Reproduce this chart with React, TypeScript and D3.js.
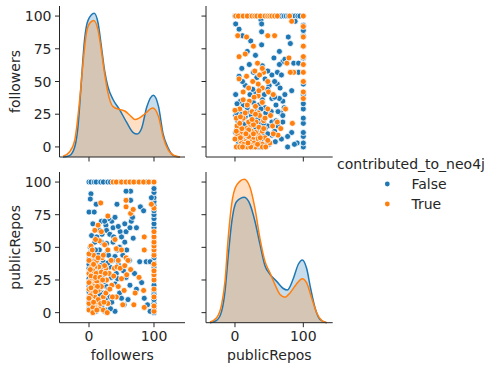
import * as d3 from 'd3';

const blue = '#1f77b4';
const orange = '#ff7f0e';
const ink = '#262626';
const font = 'DejaVu Sans, sans-serif';

const hueTitle = 'contributed_to_neo4j';
const hueLevels = ['False', 'True'];
const variables = ['followers', 'publicRepos'];
const yTicks = [0, 25, 50, 75, 100];
const xTicks = [0, 100];

// [followers, publicRepos]
const falsePoints: [number, number][] = [
  [0, 100], [3, 100], [8, 100], [11, 100], [18, 100], [22, 100], [29, 100], [33, 100], [40, 100], [48, 100],
  [68, 100], [77, 100], [85, 100], [89, 100], [93, 100],
  [100, 0], [100, 3], [100, 7], [100, 10], [100, 14], [100, 17], [100, 21], [100, 25], [100, 28], [100, 32],
  [100, 35], [100, 38], [100, 42], [100, 45], [100, 50], [100, 54], [100, 58], [100, 62], [100, 65], [100, 68],
  [100, 72], [100, 75], [100, 78], [100, 82], [100, 85], [100, 88], [100, 92], [100, 95], [97, 38], [96, 88],
  [3, 91], [2, 87], [11, 83], [0, 77], [43, 83], [64, 86], [64, 93], [57, 93], [79, 81], [84, 78],
  [19, 70], [26, 67], [35, 70], [37, 65], [40, 73], [27, 63], [16, 63], [32, 60], [48, 62], [57, 62],
  [55, 68], [65, 70], [73, 65], [63, 65], [50, 58], [4, 59], [9, 54], [19, 54], [27, 53], [37, 54],
  [47, 50], [55, 54], [58, 48], [16, 48], [26, 45], [40, 43], [0, 41], [6, 42], [11, 37], [22, 39],
  [32, 35], [45, 37], [53, 32], [57, 27], [42, 30], [27, 31], [16, 27], [4, 32], [78, 39], [88, 39],
  [94, 39], [81, 23], [63, 21], [40, 22], [27, 20], [9, 25], [16, 17], [32, 12], [35, 8], [40, 1],
  [54, 6], [16, 6], [6, 2], [11, 1], [24, 1], [94, 1], [0, 12], [73, 18], [62, 40],
  [2, 44], [5, 38], [8, 30], [13, 33], [18, 36], [21, 28], [24, 24], [2, 22], [7, 18], [12, 14],
  [19, 10], [23, 15], [28, 8], [3, 5], [8, 8], [14, 3], [20, 4], [26, 2], [30, 18], [34, 27],
  [36, 40], [30, 44], [14, 44], [10, 48], [2, 50], [20, 60], [12, 58], [44, 26], [47, 15], [50, 11],
  [44, 48], [38, 58], [30, 72], [24, 70], [45, 66], [68, 57], [70, 30], [60, 10], [85, 11], [90, 6],
  [67, 73], [52, 44], [6, 68], [8, 77],
  [0, 3], [0, 8], [0, 16], [0, 20], [0, 26], [0, 34], [0, 37], [5, 12], [10, 20], [15, 30],
  [18, 42], [21, 33], [9, 40], [3, 47], [25, 10], [29, 38], [33, 3], [17, 14],
];

const truePoints: [number, number][] = [
  [37, 100], [42, 100], [50, 100], [57, 100], [63, 100], [69, 100], [77, 100], [84, 100], [92, 100], [100, 100],
  [100, 1], [100, 5], [100, 12], [100, 18], [100, 25], [100, 29], [100, 32], [100, 37], [100, 44], [100, 48],
  [100, 51], [100, 54], [100, 58], [100, 62], [100, 80],
  [18, 84], [57, 86], [57, 81], [64, 76], [68, 79], [96, 83], [29, 74], [14, 67], [9, 63], [3, 51],
  [29, 48], [42, 49], [16, 55], [50, 48], [57, 42], [60, 40], [64, 33], [85, 58], [85, 48], [77, 27],
  [45, 40], [39, 34], [26, 34], [15, 35], [9, 35], [4, 35], [6, 32], [11, 30], [19, 31], [6, 26],
  [16, 22], [27, 25], [35, 21], [45, 20], [50, 26], [71, 15], [84, 17], [85, 4], [69, 6], [54, 17],
  [42, 12], [4, 22], [4, 16], [9, 12], [14, 17], [4, 9], [11, 8], [0, 2], [9, 4], [16, 3],
  [22, 12], [29, 7], [0, 7], [0, 18], [0, 30],
  [2, 40], [7, 44], [12, 40], [20, 42], [24, 36], [3, 28], [12, 24], [19, 20], [8, 20], [2, 13],
  [14, 10], [6, 4], [22, 2], [18, 7], [26, 15], [32, 18], [10, 27], [1, 24], [31, 30], [36, 12],
  [24, 52], [10, 56], [19, 62], [22, 44], [34, 40], [43, 35], [38, 28], [48, 34], [55, 36], [58, 29],
  [52, 6], [28, 0], [6, 0], [40, 56],
  [0, 11], [0, 23], [0, 40], [0, 45], [3, 19], [7, 8], [12, 2], [13, 20], [17, 27], [7, 37],
  [21, 25], [23, 8], [2, 33], [10, 16], [14, 42], [25, 30], [5, 48],
];

// kde curves (density x 1e-3)
const followersKdeXFalse = [-40, -30, -22, -17, -12, -7, -1.5, 8, 14, 19, 24, 29, 37, 47, 58, 68, 74, 81, 89, 99, 107, 114, 122, 130, 140];
const followersKdeFalse = [0, 0.1, 0.7, 2.1, 5.1, 8.1, 9.5, 10.0, 9.3, 7.7, 6.0, 4.9, 4.0, 3.3, 2.4, 1.7, 1.6, 2.0, 3.5, 4.3, 3.5, 1.6, 0.6, 0.1, 0];
const followersKdeXTrue = [-40, -30, -22, -14.4, -9.3, -4.1, 1, 7.2, 14, 19, 24, 29, 37, 47, 55, 63, 71, 77, 86, 98, 107, 114, 122, 130, 140];
const followersKdeTrue = [0.05, 0.35, 1.16, 3.95, 6.5, 8.6, 9.3, 9.5, 8.8, 7.4, 5.8, 4.5, 3.5, 3.3, 3.2, 2.9, 2.6, 2.7, 3.0, 3.4, 2.8, 1.4, 0.47, 0.12, 0];
const reposKdeXFalse = [-36.6, -26.8, -19.5, -14.6, -9.8, -4.9, 2.4, 13.7, 22, 29.3, 36.6, 43.9, 51.2, 61, 70.7, 76.6, 85.4, 92.7, 98.5, 104.9, 110.7, 117.1, 124.4, 134.1];
const reposKdeFalse = [0, 0.16, 0.81, 2.2, 4.7, 7.0, 8.5, 8.8, 8.3, 7.1, 5.5, 4.0, 3.4, 2.9, 2.4, 2.3, 3.1, 4.1, 4.4, 3.8, 2.4, 1.05, 0.23, 0];
const reposKdeXTrue = [-36.6, -26.8, -19.5, -14.6, -9.8, -4.9, 2.4, 13.7, 22, 29.3, 36.6, 43.9, 51.2, 58.5, 65.9, 73.2, 80.5, 89.3, 98.5, 104.9, 112.2, 119.5, 126.8, 134.1];
const reposKdeTrue = [0.05, 0.35, 1.28, 2.9, 6.0, 8.3, 9.65, 10.07, 9.5, 8.0, 5.9, 4.3, 3.5, 2.67, 1.98, 1.79, 2.09, 2.67, 3.09, 2.79, 1.74, 0.7, 0.16, 0];

const W = 497;
const H = 368;
const cols = [
  { left: 59.5, right: 185, domain: [-45.4, 147.7] },
  { left: 206, right: 332.7, domain: [-42.4, 143] },
];
const rows = [
  { top: 6, bottom: 157 },
  { top: 172, bottom: 322.7 },
];
const yDomain = [-7.7, 107.7];

const xScales = cols.map(c => d3.scaleLinear().domain(c.domain).range([c.left, c.right]));
const yScales = rows.map(r => d3.scaleLinear().domain(yDomain).range([r.bottom, r.top]));

const zip = (xs: number[], ys: number[]) => xs.map((x, i) => [x, ys[i]] as [number, number]);
const diagData = [
  [zip(followersKdeXFalse, followersKdeFalse), zip(followersKdeXTrue, followersKdeTrue)],
  [zip(reposKdeXFalse, reposKdeFalse), zip(reposKdeXTrue, reposKdeTrue)],
];

const Panel = ({ ri, ci }: { ri: number; ci: number }) => {
  const x = xScales[ci];
  const y = yScales[ri];
  const r = rows[ri];
  const c = cols[ci];
  const colors = [blue, orange];
  let body;
  if (ri === ci) {
    const curves = diagData[ci];
    const maxD = d3.max(curves.flat(), d => d[1]) as number;
    const yd = d3.scaleLinear().domain([0, maxD * 1.05]).range([r.bottom, r.top]);
    const area = d3.area<[number, number]>().x(d => x(d[0])).y0(yd(0)).y1(d => yd(d[1])).curve(d3.curveMonotoneX);
    const line = d3.line<[number, number]>().x(d => x(d[0])).y(d => yd(d[1])).curve(d3.curveMonotoneX);
    body = (
      <g>
        {curves.map((cv, i) => <path key={'a' + i} d={area(cv) as string} fill={colors[i]} fillOpacity={0.25} />)}
        {curves.map((cv, i) => <path key={'l' + i} d={line(cv) as string} fill="none" stroke={colors[i]} strokeWidth={1.5} />)}
      </g>
    );
  } else {
    // row variable on y, column variable on x
    const sets = [falsePoints, truePoints];
    body = (
      <g>
        {sets.map((pts, i) => (
          <g key={i} fill={colors[i]} stroke="white" strokeWidth={0.8}>
            {pts.map((p, j) => (
              <circle key={j} cx={x(p[ci])} cy={y(p[ri])} r={3} />
            ))}
          </g>
        ))}
      </g>
    );
  }
  return (
    <g>
      {body}
      <line x1={c.left} x2={c.left} y1={r.top} y2={r.bottom} stroke={ink} strokeWidth={1} />
      <line x1={c.left} x2={c.right} y1={r.bottom} y2={r.bottom} stroke={ink} strokeWidth={1} />
      {yTicks.map(t => (
        <g key={'y' + t}>
          <line x1={c.left - 4.5} x2={c.left} y1={y(t)} y2={y(t)} stroke={ink} />
          {ci === 0 && (
            <text x={c.left - 8} y={y(t)} dy="0.36em" textAnchor="end" fontSize={14} fill={ink}>{t}</text>
          )}
        </g>
      ))}
      {xTicks.map(t => (
        <g key={'x' + t}>
          <line x1={x(t)} x2={x(t)} y1={r.bottom} y2={r.bottom + 4.5} stroke={ink} />
          {ri === 1 && (
            <text x={x(t)} y={340.7} textAnchor="middle" fontSize={14} fill={ink}>{t}</text>
          )}
        </g>
      ))}
      {ri === 1 && (
        <text x={(c.left + c.right) / 2} y={359.5} textAnchor="middle" fontSize={14} fill={ink}>{variables[ci]}</text>
      )}
      {ci === 0 && (
        <text transform={`translate(19.5,${(r.top + r.bottom) / 2}) rotate(-90)`} textAnchor="middle" fontSize={14} fill={ink}>{variables[ri]}</text>
      )}
    </g>
  );
};

export default function App() {
  const colors = [blue, orange];
  return (
    <svg width={W} height={H} style={{ position: 'absolute', left: 0, top: 0, background: 'white' }} fontFamily={font}>
      <rect width={W} height={H} fill="white" />
      {[0, 1].map(ri => [0, 1].map(ci => <Panel key={`${ri}-${ci}`} ri={ri} ci={ci} />))}
      <g>
        <text x={337} y={169} fontSize={14} fill={ink}>{hueTitle}</text>
        {hueLevels.map((h, i) => (
          <g key={h}>
            <circle cx={387.3} cy={184 + i * 20} r={2.4} fill={colors[i]} />
            <text x={411.5} y={189 + i * 20} fontSize={14} fill={ink}>{h}</text>
          </g>
        ))}
      </g>
    </svg>
  );
}
